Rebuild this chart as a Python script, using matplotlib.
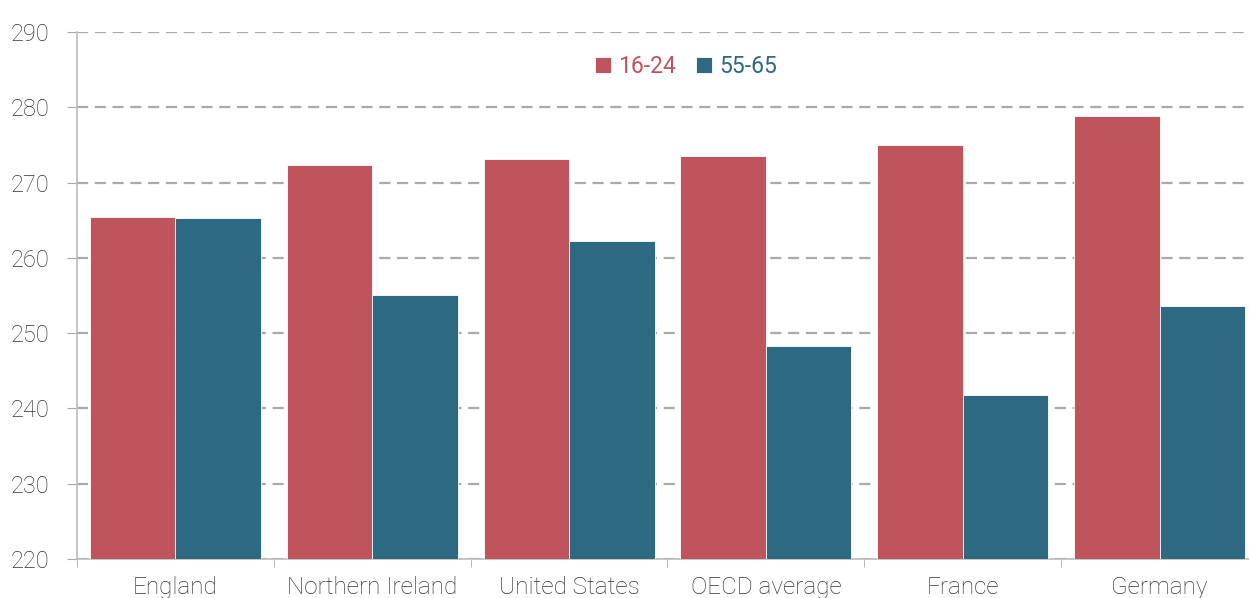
import numpy as np
import matplotlib.pyplot as plt

countries = ["England", "Northern Ireland", "United States", "OECD average", "France", "Germany"]
young = [265.4, 272.3, 273.1, 273.5, 275.0, 278.8]
older = [265.3, 255.1, 262.2, 248.3, 241.8, 253.6]
series_names = ["16-24", "55-65"]
colors = ["#BF545D", "#2D6A82"]
yticks = [220, 230, 240, 250, 260, 270, 280, 290]

plt.rcParams['font.family'] = ['Roboto', 'DejaVu Sans']
plt.rcParams['font.weight'] = 'light'

fig = plt.figure(figsize=(12.49, 5.98), dpi=100)
# the plot area runs a little past the right edge of the picture
ax = fig.add_axes([77 / 1249, 39 / 598, 1181 / 1249, 527 / 598])

x = np.arange(len(countries))
w = 0.434
ax.bar(x - w / 2, young, w, color=colors[0], edgecolor="white", linewidth=0.6, label=series_names[0], zorder=3)
ax.bar(x + w / 2, older, w, color=colors[1], edgecolor="white", linewidth=0.6, label=series_names[1], zorder=3)

ax.set_ylim(220, 290)
ax.set_xlim(-0.5, len(countries) - 0.5)
ax.set_yticks(yticks)
ax.yaxis.grid(True, linestyle=(0, (5, 3)), color="#aaaaaa", linewidth=1.6, zorder=0)
ax.set_axisbelow(True)

ax.set_xticks(x)
ax.set_xticklabels(countries)
ax.set_xticks(np.arange(len(countries) + 1) - 0.5, minor=True)
ax.tick_params(axis="x", which="major", length=0, pad=12, labelsize=17.5, labelcolor="#333333")
ax.tick_params(axis="x", which="minor", length=6, color="#aaaaaa", direction="out")
ax.tick_params(axis="y", length=7, color="#aaaaaa", labelsize=17, labelcolor="#333333", pad=13)

for s in ["top", "right"]:
    ax.spines[s].set_visible(False)
for s in ["left", "bottom"]:
    ax.spines[s].set_color("#bbbbbb")
    ax.spines[s].set_linewidth(1.2)

leg = ax.legend(loc="upper center", bbox_to_anchor=(0.5155, 0.995), ncol=2, frameon=False,
                fontsize=16.5, handlelength=0.7, handleheight=0.7, handletextpad=0.3,
                columnspacing=0.9, prop={"weight": "normal", "size": 16.5})
for txt, c in zip(leg.get_texts(), colors):
    txt.set_color(c)

fig.savefig("out.png", dpi=100)
